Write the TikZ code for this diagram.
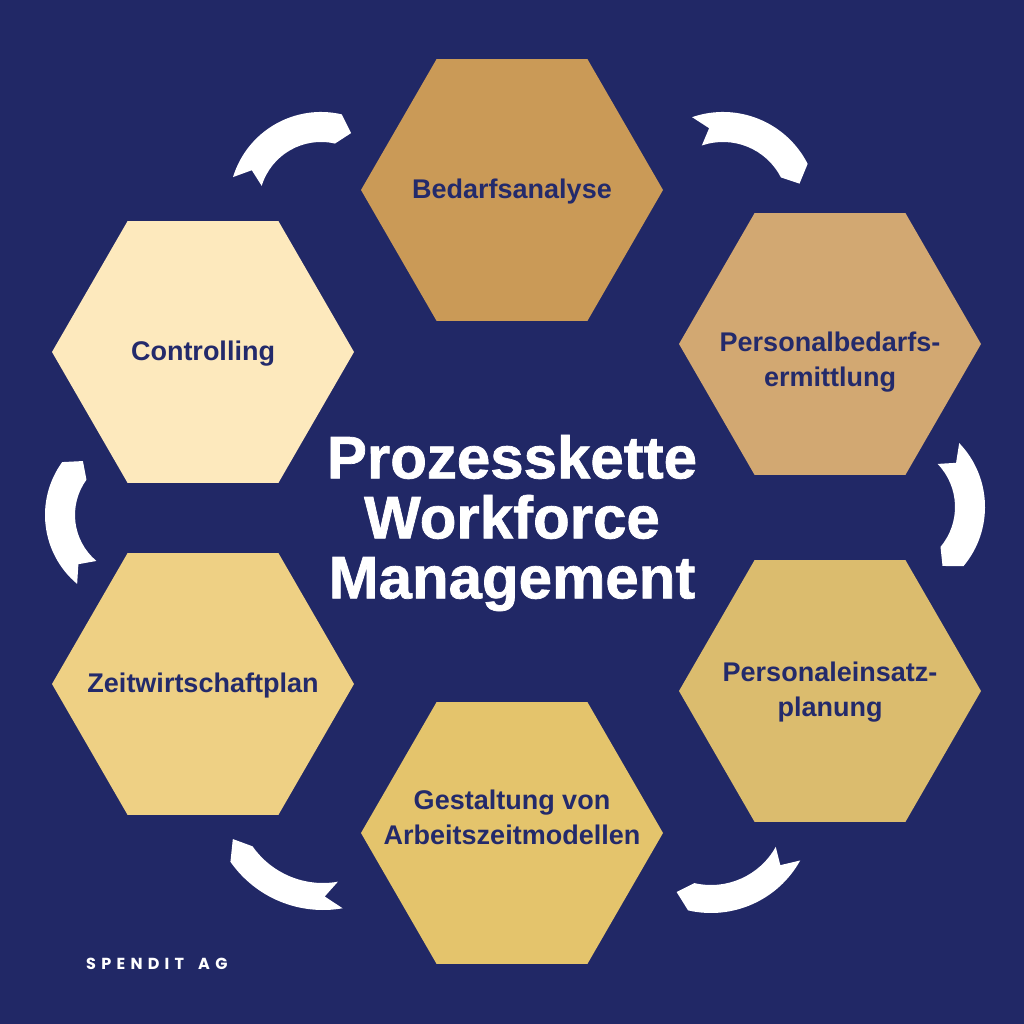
\documentclass[tikz,border=0pt]{standalone}
\usepackage{fontspec}
\setmainfont{Liberation Sans}
\newfontfamily\brandfont{Poppins}[LetterSpace=33]
\newfontfamily\titlefont{Liberation Sans}[FakeBold=1.2]
\usetikzlibrary{shapes.geometric}
\definecolor{bg}{HTML}{212866}
\definecolor{navytext}{HTML}{232A6B}
\definecolor{hA}{HTML}{CA9A57}
\definecolor{hB}{HTML}{D2A872}
\definecolor{hC}{HTML}{DBBC6E}
\definecolor{hD}{HTML}{E4C46C}
\definecolor{hE}{HTML}{EED084}
\definecolor{hF}{HTML}{FDE9BD}
\newcommand\wfarrow[6]{%
  \begin{scope}[shift={(#1,#2)}]
    \fill[white] (#5:#3) arc[start angle=#5, end angle=#6, radius=#3]
      -- ({#6-10}:{(#3+#4)/2}) -- (#6:#4)
      arc[start angle=#6, end angle=#5, radius=#4]
      -- ({#5-9}:{(#3+#4)/2}) -- cycle;
  \end{scope}}
\begin{document}
\begin{tikzpicture}[x=1pt,y=1pt,
  hexa/.style={regular polygon, regular polygon sides=6, minimum size=302pt,
    inner sep=0pt, outer sep=0pt, draw=none},
  hlabel/.style={font=\bfseries\fontsize{27}{35}\selectfont, text=navytext,
    align=center, inner sep=0pt},
  title/.style={font=\titlefont\bfseries\fontsize{60}{60}\selectfont, text=white,
    align=center, inner sep=0pt}]
\fill[bg] (0,0) rectangle (1024,1024);
\useasboundingbox (0,0) rectangle (1024,1024);

% hexagons
\node[hexa, fill=hA] (h1) at (512,834) {};
\node[hexa, fill=hB] (h2) at (830,680) {};
\node[hexa, fill=hC] (h3) at (830,333) {};
\node[hexa, fill=hD] (h4) at (512,191) {};
\node[hexa, fill=hE] (h5) at (203,340) {};
\node[hexa, fill=hF] (h6) at (203,672) {};

% labels
\node[hlabel] (t1) at ([yshift=-2pt]h1.center) {Bedarfsanalyse};
\node[hlabel] (t2) at ([yshift=-18pt]h2.center) {Personalbedarfs-\\ermittlung};
\node[hlabel] (t3) at ([yshift=-1pt]h3.center) {Personaleinsatz-\\planung};
\node[hlabel] (t4) at ([yshift=16pt]h4.center) {Gestaltung von\\Arbeitszeitmodellen};
\node[hlabel] (t5) at ([yshift=-2pt]h5.center) {Zeitwirtschaftplan};
\node[hlabel] (t6) at ([yshift=-2pt]h6.center) {Controlling};

% title
\node[title] (title) at (512,501) {Prozesskette\\Workforce\\Management};

% cycle arrows
\wfarrow{321}{820}{92}{62}{163}{77}
\wfarrow{723}{817}{95}{65}{109}{27}
\wfarrow{893}{517}{92}{62}{44}{-40}
\wfarrow{135}{509}{90}{60}{230}{144}
\wfarrow{323}{227}{113}{86}{280}{215}
\wfarrow{711}{213}{102}{74}{331}{257}

% brand
\node[anchor=base west, inner sep=0pt, text=white,
  font=\brandfont\bfseries\fontsize{16}{16}\selectfont] (brand) at (86,54) {SPENDIT\hspace{14pt}AG};
\end{tikzpicture}
\end{document}
